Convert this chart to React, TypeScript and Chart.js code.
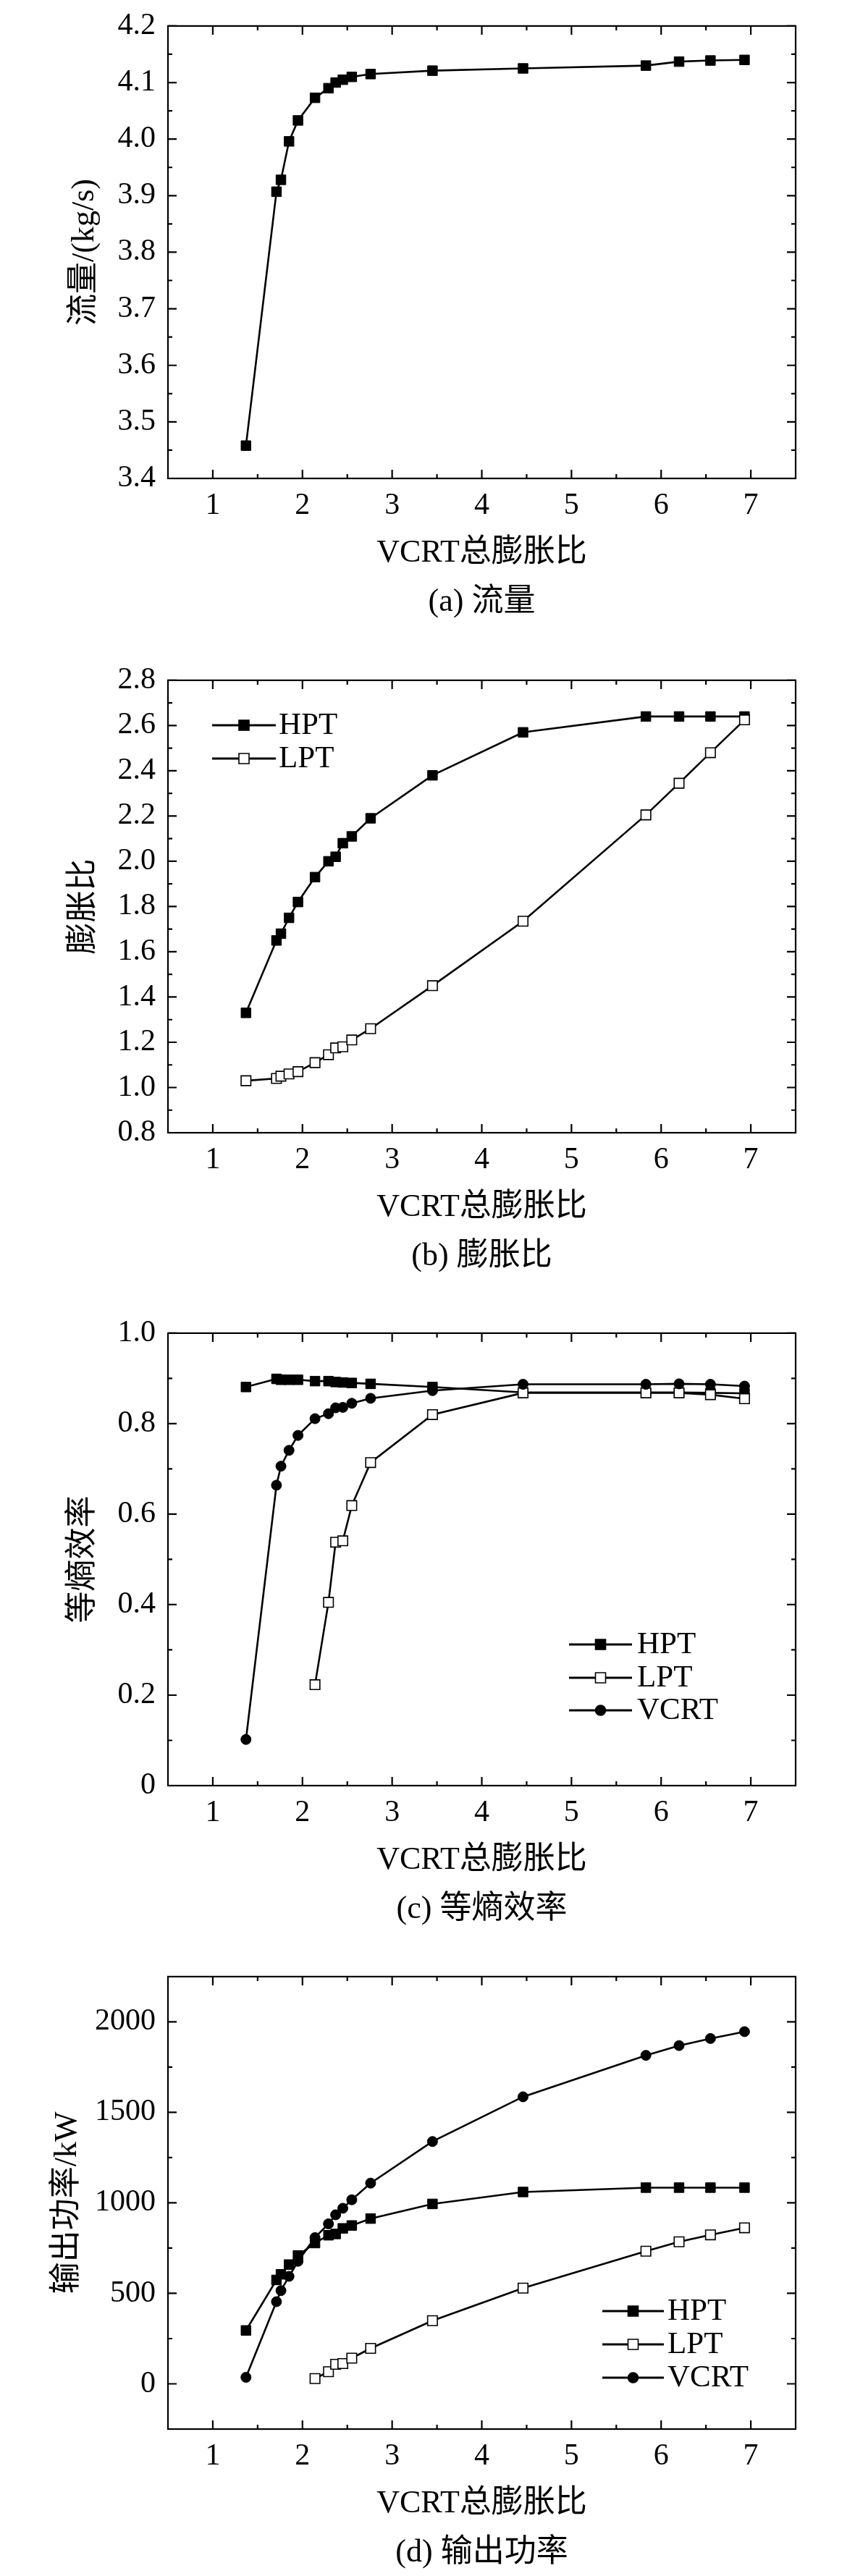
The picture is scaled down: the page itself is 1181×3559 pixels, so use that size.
import React, { useEffect, useRef } from 'react';
import { Chart, registerables } from 'chart.js';

Chart.register(...registerables);

const FONT = '"Times New Roman", "Liberation Serif", "Noto Sans CJK SC", serif';

// VCRT overall expansion ratio (shared x for every panel)
const VCRT_RATIO = [1.37, 1.71, 1.76, 1.85, 1.95, 2.14, 2.29, 2.37, 2.45, 2.55, 2.76, 3.45, 4.46, 5.83, 6.2, 6.55, 6.93];

// (a) mass flow, kg/s
const MASS_FLOW = [3.458, 3.907, 3.928, 3.996, 4.033, 4.073, 4.09, 4.1, 4.105, 4.11, 4.115, 4.121, 4.125, 4.13, 4.137, 4.139, 4.14];

// (b) expansion ratio
const HPT_RATIO = [1.33, 1.65, 1.68, 1.75, 1.82, 1.93, 2.0, 2.02, 2.08, 2.11, 2.19, 2.38, 2.57, 2.64, 2.64, 2.64, 2.64];
const LPT_RATIO = [1.03, 1.04, 1.05, 1.06, 1.07, 1.11, 1.145, 1.175, 1.18, 1.21, 1.26, 1.45, 1.735, 2.205, 2.345, 2.48, 2.625];

// (c) isentropic efficiency
const HPT_EFF = [0.881, 0.899, 0.897, 0.897, 0.897, 0.894, 0.894, 0.892, 0.891, 0.89, 0.888, 0.881, 0.869, 0.869, 0.869, 0.868, 0.867];
const LPT_EFF = [null, null, null, null, null, 0.223, 0.405, 0.538, 0.541, 0.619, 0.714, 0.82, 0.868, 0.868, 0.868, 0.864, 0.855];
const VCRT_EFF = [0.102, 0.664, 0.706, 0.741, 0.774, 0.811, 0.822, 0.835, 0.836, 0.845, 0.856, 0.873, 0.887, 0.887, 0.888, 0.887, 0.883];

// (d) output power, kW
const HPT_POWER = [295, 574, 605, 659, 709, 778, 821, 828, 859, 875, 913, 994, 1060, 1084, 1084, 1084, 1084];
const LPT_POWER = [null, null, null, null, null, 29, 67, 108, 112, 142, 196, 349, 529, 733, 785, 823, 862];
const VCRT_POWER = [36, 454, 515, 594, 677, 808, 884, 934, 970, 1017, 1109, 1339, 1586, 1815, 1869, 1908, 1946];

// axis ticks
const X_MAJOR = [1, 2, 3, 4, 5, 6, 7];
const X_MINOR = [1.5, 2.5, 3.5, 4.5, 5.5, 6.5];
const FLOW_MAJOR = [3.4, 3.5, 3.6, 3.7, 3.8, 3.9, 4.0, 4.1, 4.2];
const FLOW_MINOR = [3.45, 3.55, 3.65, 3.75, 3.85, 3.95, 4.05, 4.15];
const RATIO_MAJOR = [0.8, 1.0, 1.2, 1.4, 1.6, 1.8, 2.0, 2.2, 2.4, 2.6, 2.8];
const RATIO_MINOR = [0.9, 1.1, 1.3, 1.5, 1.7, 1.9, 2.1, 2.3, 2.5, 2.7];
const EFF_MAJOR = [0, 0.2, 0.4, 0.6, 0.8, 1.0];
const EFF_MINOR = [0.1, 0.3, 0.5, 0.7, 0.9];
const POWER_MAJOR = [0, 500, 1000, 1500, 2000];
const POWER_MINOR = [250, 750, 1250, 1750];

const X_TITLE = 'VCRT总膨胀比';

type Kind = 'filledSquare' | 'openSquare' | 'filledCircle';

interface Series {
  label: string;
  data: (number | null)[];
  kind: Kind;
}

interface LegendSpec {
  x0: number;
  x1: number;
  textX: number;
  y: number[];
}

interface PanelProps {
  top: number;
  yTitle: string;
  caption: string;
  yMin: number;
  yMax: number;
  yMajor: number[];
  yMinor: number[];
  yLabel: (v: number) => string;
  yTitlePad: number;
  series: Series[];
  legend?: LegendSpec;
}

const CANVAS_W = 1181;
const CANVAS_H = 880;

function drawMarker(ctx: CanvasRenderingContext2D, kind: Kind, x: number, y: number) {
  ctx.beginPath();
  if (kind === 'filledCircle') ctx.arc(x, y, 7, 0, Math.PI * 2);
  else ctx.rect(x - 7, y - 7, 14, 14);
  ctx.fillStyle = kind === 'openSquare' ? '#fff' : '#000';
  ctx.fill();
  ctx.lineWidth = 1.6;
  ctx.strokeStyle = '#000';
  ctx.stroke();
}

// frame with inward ticks on all four sides, plus the line+marker legend
const frameTicks = {
  id: 'frameTicks',
  afterDraw(chart: any, _args: any, opts: any) {
    const { ctx, chartArea, scales } = chart;
    const { left, right, top, bottom } = chartArea;
    ctx.save();
    ctx.strokeStyle = '#000';
    ctx.lineWidth = 2.2;
    ctx.strokeRect(left, top, right - left, bottom - top);

    const xTick = (v: number, len: number) => {
      const px = scales.x.getPixelForValue(v);
      ctx.beginPath();
      ctx.moveTo(px, bottom);
      ctx.lineTo(px, bottom - len);
      ctx.moveTo(px, top);
      ctx.lineTo(px, top + len);
      ctx.stroke();
    };
    const yTick = (v: number, len: number) => {
      const py = scales.y.getPixelForValue(v);
      ctx.beginPath();
      ctx.moveTo(left, py);
      ctx.lineTo(left + len, py);
      ctx.moveTo(right, py);
      ctx.lineTo(right - len, py);
      ctx.stroke();
    };
    opts.xMajor.forEach((v: number) => xTick(v, 12));
    opts.xMinor.forEach((v: number) => xTick(v, 6));
    opts.yMajor.forEach((v: number) => yTick(v, 12));
    opts.yMinor.forEach((v: number) => yTick(v, 6));

    const lg: LegendSpec | undefined = opts.legend;
    if (lg) {
      opts.series.forEach((s: Series, i: number) => {
        const y = lg.y[i];
        ctx.beginPath();
        ctx.lineWidth = 2.8;
        ctx.strokeStyle = '#000';
        ctx.moveTo(lg.x0, y);
        ctx.lineTo(lg.x1, y);
        ctx.stroke();
        drawMarker(ctx, s.kind, (lg.x0 + lg.x1) / 2, y);
        ctx.fillStyle = '#000';
        ctx.font = `43px ${FONT}`;
        ctx.textAlign = 'left';
        ctx.textBaseline = 'middle';
        ctx.fillText(s.label, lg.textX, y + 1);
      });
    }
    ctx.restore();
  },
};

const ORDER: Record<string, number> = { HPT: 2, LPT: 1, VCRT: 0 };

function makeDataset(s: Series) {
  const points = VCRT_RATIO.map((x, i) => ({ x, y: s.data[i] })).filter(p => p.y !== null);
  const open = s.kind === 'openSquare';
  return {
    label: s.label,
    data: points,
    order: ORDER[s.label] ?? 0,
    borderColor: '#000',
    borderWidth: 2.6,
    tension: 0,
    fill: false,
    pointStyle: s.kind === 'filledCircle' ? 'circle' : 'rect',
    pointRadius: s.kind === 'filledCircle' ? 7 : 9.5,
    pointBackgroundColor: open ? '#fff' : '#000',
    pointBorderColor: '#000',
    pointBorderWidth: open ? 1.6 : 1,
  };
}

const Panel: React.FC<PanelProps> = p => {
  const canvasRef = useRef<HTMLCanvasElement>(null);

  useEffect(() => {
    if (!canvasRef.current) return;
    const chart = new Chart(canvasRef.current, {
      type: 'line',
      data: { datasets: p.series.map(makeDataset) as any },
      plugins: [frameTicks],
      options: {
        animation: false,
        responsive: false,
        devicePixelRatio: 1,
        events: [],
        layout: { padding: { left: 0, right: 82, top: 21, bottom: 0 } },
        plugins: {
          legend: { display: false },
          tooltip: { enabled: false },
          frameTicks: {
            xMajor: X_MAJOR,
            xMinor: X_MINOR,
            yMajor: p.yMajor,
            yMinor: p.yMinor,
            legend: p.legend,
            series: p.series,
          },
        } as any,
        scales: {
          x: {
            type: 'linear',
            min: 0.5,
            max: 7.5,
            bounds: 'data',
            afterBuildTicks: (s: any) => {
              s.ticks = X_MAJOR.map(v => ({ value: v }));
            },
            afterFit: (s: any) => {
              s.height = CANVAS_H - 21 - 640;
            },
            grid: { display: false, drawTicks: false },
            border: { display: false },
            ticks: {
              color: '#000',
              padding: 13,
              autoSkip: false,
              maxRotation: 0,
              font: { family: FONT, size: 42, lineHeight: 1.2 },
              callback: (v: any) => String(v),
            },
            title: {
              display: true,
              text: [X_TITLE, p.caption],
              color: '#000',
              font: { family: FONT, size: 44, lineHeight: 1.545 },
              padding: { top: 0, bottom: 14 },
            },
          },
          y: {
            type: 'linear',
            min: p.yMin,
            max: p.yMax,
            bounds: 'data',
            afterBuildTicks: (s: any) => {
              s.ticks = p.yMajor.map(v => ({ value: v }));
            },
            afterFit: (s: any) => {
              s.width = 232;
            },
            grid: { display: false, drawTicks: false },
            border: { display: false },
            ticks: {
              color: '#000',
              padding: 17,
              autoSkip: false,
              font: { family: FONT, size: 42, lineHeight: 0.9 },
              callback: (v: any) => p.yLabel(Number(v)),
            },
            title: {
              display: true,
              text: p.yTitle,
              color: '#000',
              font: { family: FONT, size: 44, lineHeight: 1.2 },
              padding: { top: p.yTitlePad, bottom: 0 },
            },
          },
        },
      } as any,
    });
    return () => {
      chart.destroy();
    };
  }, []);

  return (
    <canvas
      ref={canvasRef}
      width={CANVAS_W}
      height={CANVAS_H}
      style={{ position: 'absolute', left: 0, top: p.top, width: CANVAS_W, height: CANVAS_H }}
    />
  );
};

const oneDecimal = (v: number) => v.toFixed(1);

export default function App() {
  return (
    <div
      style={{
        position: 'absolute',
        left: 0,
        top: 0,
        width: 1181,
        height: 3559,
        overflow: 'hidden',
        background: '#fff',
      }}
    >
      <Panel
        top={0}
        yTitle="流量/(kg/s)"
        caption="(a) 流量"
        yMin={3.4}
        yMax={4.2}
        yMajor={FLOW_MAJOR}
        yMinor={FLOW_MINOR}
        yLabel={oneDecimal}
        yTitlePad={91}
        series={[{ label: 'Flow', data: MASS_FLOW, kind: 'filledSquare' }]}
      />
      <Panel
        top={904}
        yTitle="膨胀比"
        caption="(b) 膨胀比"
        yMin={0.8}
        yMax={2.8}
        yMajor={RATIO_MAJOR}
        yMinor={RATIO_MINOR}
        yLabel={oneDecimal}
        yTitlePad={90}
        series={[
          { label: 'HPT', data: HPT_RATIO, kind: 'filledSquare' },
          { label: 'LPT', data: LPT_RATIO, kind: 'openSquare' },
        ]}
        legend={{ x0: 293, x1: 381, textX: 385, y: [98, 144] }}
      />
      <Panel
        top={1806}
        yTitle="等熵效率"
        caption="(c) 等熵效率"
        yMin={0}
        yMax={1.0}
        yMajor={EFF_MAJOR}
        yMinor={EFF_MINOR}
        yLabel={v => (v === 0 ? '0' : v.toFixed(1))}
        yTitlePad={89}
        series={[
          { label: 'HPT', data: HPT_EFF, kind: 'filledSquare' },
          { label: 'LPT', data: LPT_EFF, kind: 'openSquare' },
          { label: 'VCRT', data: VCRT_EFF, kind: 'filledCircle' },
        ]}
        legend={{ x0: 786, x1: 873, textX: 880, y: [466, 512, 557] }}
      />
      <Panel
        top={2695}
        yTitle="输出功率/kW"
        caption="(d) 输出功率"
        yMin={-250}
        yMax={2250}
        yMajor={POWER_MAJOR}
        yMinor={POWER_MINOR}
        yLabel={v => String(Math.round(v))}
        yTitlePad={67}
        series={[
          { label: 'HPT', data: HPT_POWER, kind: 'filledSquare' },
          { label: 'LPT', data: LPT_POWER, kind: 'openSquare' },
          { label: 'VCRT', data: VCRT_POWER, kind: 'filledCircle' },
        ]}
        legend={{ x0: 832, x1: 917, textX: 922, y: [498, 544, 590] }}
      />
    </div>
  );
}
